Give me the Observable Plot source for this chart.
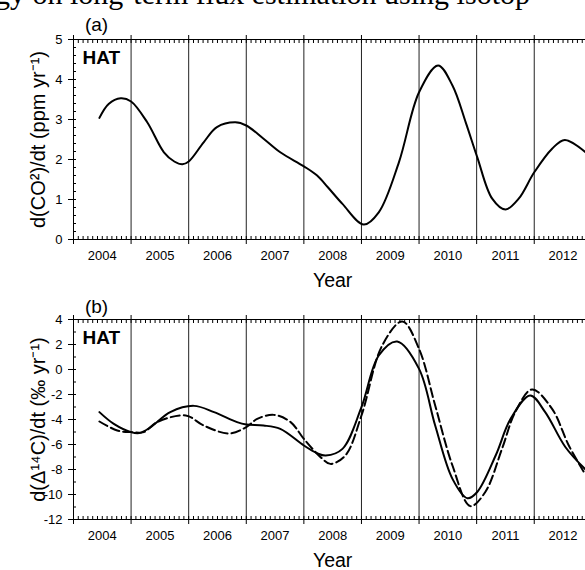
<!DOCTYPE html>
<html><head><meta charset="utf-8">
<script src="https://cdn.jsdelivr.net/npm/d3@7"></script>
<script src="https://cdn.jsdelivr.net/npm/@observablehq/plot@0.6"></script>
<style>
html,body{margin:0;padding:0;background:#fff;}
body{width:585px;height:570px;overflow:hidden;position:relative;font-family:"Liberation Sans",Arial,sans-serif;}
#clip{position:absolute;left:-20px;top:-21px;font-family:"Liberation Serif","Times New Roman",serif;font-size:30px;line-height:30px;white-space:nowrap;color:#000;z-index:2;}
svg{display:block;}
</style></head><body>
<div id="clip">ogy on long-term flux estimation using isotop</div>
<div id="chart"></div>
<script>
const stationName = "HAT";
const panelLetters = ["(a)", "(b)"];
const xTitle = "Year";
const yTitleA = "d(CO²)/dt (ppm yr⁻¹)";
const yTitleB = "d(Δ¹⁴C)/dt (‰ yr⁻¹)";
const yearBoundaries = [2004, 2005, 2006, 2007, 2008, 2009, 2010, 2011, 2012];
const yearCenters = [2004.5, 2005.5, 2006.5, 2007.5, 2008.5, 2009.5, 2010.5, 2011.5, 2012.5];
const yearLabels = ["2004", "2005", "2006", "2007", "2008", "2009", "2010", "2011", "2012"];
const yTicksA = [0, 1, 2, 3, 4, 5];
const yTickLabelsA = ["0", "1", "2", "3", "4", "5"];
const yTicksB = [-12, -10, -8, -6, -4, -2, 0, 2, 4];
const yTickLabelsB = ["-12", "-10", "-8", "-6", "-4", "-2", "0", "2", "4"];

// Panel (a): CO2 growth rate
const co2Years = [2004.45, 2004.61, 2004.82, 2005.00, 2005.28, 2005.57, 2005.75, 2005.89, 2006.00, 2006.26, 2006.49, 2006.81, 2007.00, 2007.30, 2007.59, 2008.00, 2008.23, 2008.42, 2008.67, 2009.04, 2009.30, 2009.65, 2010.00, 2010.33, 2010.58, 2010.81, 2011.01, 2011.27, 2011.50, 2011.73, 2012.00, 2012.31, 2012.53, 2012.89];
const co2Rate  = [3.04, 3.39, 3.53, 3.45, 2.93, 2.18, 1.95, 1.88, 1.95, 2.43, 2.81, 2.93, 2.85, 2.52, 2.18, 1.83, 1.60, 1.30, 0.89, 0.375, 0.68, 1.93, 3.68, 4.35, 3.85, 2.93, 2.06, 1.02, 0.75, 1.02, 1.68, 2.27, 2.49, 2.18];

// Panel (b): D14C growth rate, solid
const c14SolidYears = [2004.45, 2004.70, 2005.00, 2005.14, 2005.34, 2005.68, 2006.09, 2006.44, 2006.84, 2007.00, 2007.30, 2007.59, 2008.00, 2008.23, 2008.38, 2008.67, 2009.00, 2009.30, 2009.62, 2010.00, 2010.28, 2010.58, 2010.84, 2011.01, 2011.33, 2011.59, 2011.93, 2012.19, 2012.54, 2012.89];
const c14Solid      = [-3.41, -4.35, -5.01, -5.09, -4.61, -3.41, -2.91, -3.41, -4.21, -4.40, -4.48, -4.75, -6.08, -6.70, -6.88, -6.35, -3.01, 1.12, 2.24, 0.05, -4.48, -8.75, -10.3, -9.8, -6.88, -3.95, -2.08, -3.41, -6.2, -8.0];

// Panel (b): D14C growth rate, dashed
const c14DashYears = [2004.45, 2004.76, 2005.00, 2005.22, 2005.45, 2005.95, 2006.26, 2006.70, 2007.00, 2007.19, 2007.48, 2007.77, 2008.00, 2008.29, 2008.46, 2008.72, 2009.00, 2009.36, 2009.71, 2010.00, 2010.28, 2010.58, 2010.89, 2011.15, 2011.44, 2011.67, 2011.96, 2012.31, 2012.60, 2012.89];
const c14Dashed    = [-4.16, -4.88, -5.01, -5.01, -4.21, -3.68, -4.48, -5.12, -4.61, -3.95, -3.63, -4.21, -5.55, -7.01, -7.55, -6.88, -3.68, 1.92, 3.84, 1.65, -2.88, -7.68, -10.93, -9.8, -6.35, -3.41, -1.6, -3.15, -6.08, -8.42];

const months = d3.range(0, 108).map(i => 2004 + i / 12);
const toRows = (xs, ys) => xs.map((x, i) => ({x, y: ys[i]}));

function panel({height, marginTop, letter, letterDy, yDomain, yTicks, yTickLabels, yMinor, yTitle, series}) {
  const style = {fontFamily: "'Liberation Sans', Arial, sans-serif", fontSize: "13px", background: "white", color: "black", overflow: "visible"};
  return Plot.plot({
    width: 585, height, marginTop, marginBottom: 51, marginLeft: 73, marginRight: 0,
    style,
    x: {domain: [2004, 2012.89], axis: null},
    y: {domain: yDomain, axis: null},
    marks: [
      Plot.ruleX(yearBoundaries.slice(1), {stroke: "#222", strokeWidth: 1}),
      Plot.ruleY(yDomain, {stroke: "#000", strokeWidth: 1}),
      Plot.ruleX([2004], {stroke: "#000", strokeWidth: 1}),
      // major x ticks (outward), bottom and top
      Plot.axisX({anchor: "bottom", ticks: yearBoundaries, tickSize: 5, tickFormat: () => "", label: null}),
      Plot.axisX({anchor: "top", ticks: yearBoundaries, tickSize: 5, tickFormat: () => "", label: null}),
      // minor x ticks (inward)
      Plot.axisX({anchor: "bottom", ticks: months, tickSize: 3, dy: -3, tickFormat: () => "", label: null}),
      Plot.axisX({anchor: "top", ticks: months, tickSize: 3, dy: 3, tickFormat: () => "", label: null}),
      // year labels centred in each year
      Plot.axisX({anchor: "bottom", ticks: yearCenters, tickSize: 0, tickPadding: 11, fontSize: 13,
        tickFormat: d => yearLabels[yearCenters.indexOf(d)], label: null}),
      // y axis
      Plot.axisY({anchor: "left", ticks: yTicks, tickSize: 5, tickPadding: 6, fontSize: 13,
        tickFormat: d => yTickLabels[yTicks.indexOf(d)], label: null}),
      Plot.axisY({anchor: "left", ticks: yMinor, tickSize: 3, dx: 3, tickFormat: () => "", label: null}),
      // series
      ...series.map(s => Plot.line(s.rows, {x: "x", y: "y", curve: "catmull-rom", stroke: "#000", strokeWidth: 2, strokeDasharray: s.dash, clip: true})),
      // texts
      Plot.text([letter], {text: d => d, frameAnchor: "top-left", dx: 23, dy: letterDy, fontSize: 19, textAnchor: "middle", lineAnchor: "middle"}),
      Plot.text([stationName], {text: d => d, frameAnchor: "top-left", dx: 9, dy: 18, fontSize: 19, fontWeight: "bold", textAnchor: "start", lineAnchor: "middle"}),
      Plot.text([xTitle], {text: d => d, x: () => 2008.5, frameAnchor: "bottom", dy: 41.5, fontSize: 19.5, textAnchor: "middle", lineAnchor: "middle"}),
      Plot.text([yTitle], {text: d => d, frameAnchor: "left", rotate: -90, dx: -35, fontSize: 20, textAnchor: "middle", lineAnchor: "middle"})
    ]
  });
}

const chart = document.getElementById("chart");
chart.append(panel({
  height: 290, marginTop: 39, letter: panelLetters[0], letterDy: -15,
  yDomain: [0, 5], yTicks: yTicksA, yTickLabels: yTickLabelsA,
  yMinor: d3.range(0, 26).map(i => i * 0.2), yTitle: yTitleA,
  series: [{rows: toRows(co2Years, co2Rate), dash: null}]
}));
chart.append(panel({
  height: 280, marginTop: 29, letter: panelLetters[1], letterDy: -13,
  yDomain: [-12, 4], yTicks: yTicksB, yTickLabels: yTickLabelsB,
  yMinor: d3.range(-12, 5), yTitle: yTitleB,
  series: [{rows: toRows(c14SolidYears, c14Solid), dash: null}, {rows: toRows(c14DashYears, c14Dashed), dash: "9,4"}]
}));
</script>
</body></html>
